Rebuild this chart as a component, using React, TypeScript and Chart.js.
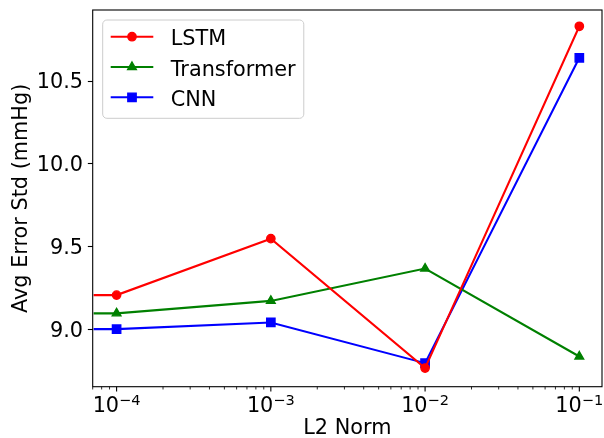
import React, { useEffect, useRef } from 'react';
import { Chart, registerables } from 'chart.js';

Chart.register(...registerables);

// ---- data ----
const l2Norms = [0, 1e-4, 1e-3, 1e-2, 1e-1];
const lstmStd = [9.21, 9.21, 9.55, 8.77, 10.83];
const transformerStd = [9.1, 9.1, 9.175, 9.37, 8.84];
const cnnStd = [9.005, 9.005, 9.045, 8.8, 10.64];
const seriesNames = ['LSTM', 'Transformer', 'CNN'];
const seriesColors = ['#ff0000', '#008000', '#0000ff'];
const xMajorTicks = [1e-4, 1e-3, 1e-2, 1e-1];
const xTickExponents = ['\u22124', '\u22123', '\u22122', '\u22121'];
const yTicks = [9.0, 9.5, 10.0, 10.5];
const xTitle = 'L2 Norm';
const yTitle = 'Avg Error Std (mmHg)';

// ---- layout / style ----
const X_MIN = Math.pow(10, -4.149);
const X_MAX = Math.pow(10, -0.853);
const Y_MIN = 8.658;
const Y_MAX = 10.928;
const FONT = "'DejaVu Sans', sans-serif";
const FS = 20.8;
const SUP_FS = 14.56;
const LINE_W = 2.08;
const MARKER_EDGE = 1.39;

type MarkerKind = 'circle' | 'triangle' | 'rect';
const markerKinds: MarkerKind[] = ['circle', 'triangle', 'rect'];
const markerRadius = [4.17, 5.0, 5.9];

function drawMarker(ctx: CanvasRenderingContext2D, kind: MarkerKind, x: number, y: number, r: number, color: string) {
  ctx.save();
  ctx.fillStyle = color;
  ctx.strokeStyle = color;
  ctx.lineWidth = MARKER_EDGE;
  ctx.beginPath();
  if (kind === 'circle') {
    ctx.arc(x, y, r, 0, Math.PI * 2);
  } else if (kind === 'triangle') {
    for (let k = 0; k < 3; k++) {
      const ang = (k * 2 * Math.PI) / 3;
      const px = x + Math.sin(ang) * r;
      const py = y - Math.cos(ang) * r;
      if (k === 0) ctx.moveTo(px, py);
      else ctx.lineTo(px, py);
    }
    ctx.closePath();
  } else {
    const s = Math.SQRT1_2 * r;
    ctx.rect(x - s, y - s, 2 * s, 2 * s);
  }
  ctx.fill();
  ctx.stroke();
  ctx.restore();
}

const decorPlugin = {
  id: 'decor',
  afterDatasetsDraw(chart: any) {
    const { ctx, chartArea: a, scales } = chart;
    const xs = scales.x;
    ctx.save();
    // frame
    ctx.strokeStyle = '#000';
    ctx.lineWidth = 1.1;
    ctx.strokeRect(a.left, a.top, a.right - a.left, a.bottom - a.top);

    // minor x ticks
    ctx.lineWidth = 0.83;
    for (let d = -6; d <= 0; d++) {
      for (let k = 2; k <= 9; k++) {
        const v = k * Math.pow(10, d);
        if (v < xs.min || v > xs.max) continue;
        const px = xs.getPixelForValue(v);
        ctx.beginPath();
        ctx.moveTo(px, a.bottom);
        ctx.lineTo(px, a.bottom + 2.78);
        ctx.stroke();
      }
    }
    // major x ticks + labels
    ctx.lineWidth = 1.1;
    ctx.fillStyle = '#000';
    ctx.textBaseline = 'alphabetic';
    ctx.textAlign = 'left';
    xMajorTicks.forEach((v, i) => {
      const px = xs.getPixelForValue(v);
      ctx.beginPath();
      ctx.moveTo(px, a.bottom);
      ctx.lineTo(px, a.bottom + 4.86);
      ctx.stroke();
      ctx.font = `${FS}px ${FONT}`;
      const w1 = ctx.measureText('10').width;
      ctx.font = `${SUP_FS}px ${FONT}`;
      const w2 = ctx.measureText(xTickExponents[i]).width;
      const x0 = px - (w1 + w2) / 2;
      const base = a.bottom + 25.2;
      ctx.font = `${FS}px ${FONT}`;
      ctx.fillText('10', x0, base);
      ctx.font = `${SUP_FS}px ${FONT}`;
      ctx.fillText(xTickExponents[i], x0 + w1, base - 7);
    });

    // legend
    ctx.font = `${FS}px ${FONT}`;
    const maxW = Math.max(...seriesNames.map((n) => ctx.measureText(n).width));
    const lx = a.left + 10;
    const ly = a.top + 10;
    const lw = 8 + 42.6 + 17.4 + maxW + 8.3;
    const lh = 98.3;
    const rr = 4.2;
    ctx.beginPath();
    ctx.moveTo(lx + rr, ly);
    ctx.lineTo(lx + lw - rr, ly);
    ctx.arcTo(lx + lw, ly, lx + lw, ly + rr, rr);
    ctx.lineTo(lx + lw, ly + lh - rr);
    ctx.arcTo(lx + lw, ly + lh, lx + lw - rr, ly + lh, rr);
    ctx.lineTo(lx + rr, ly + lh);
    ctx.arcTo(lx, ly + lh, lx, ly + lh - rr, rr);
    ctx.lineTo(lx, ly + rr);
    ctx.arcTo(lx, ly, lx + rr, ly, rr);
    ctx.closePath();
    ctx.fillStyle = 'rgba(255,255,255,0.8)';
    ctx.fill();
    ctx.strokeStyle = '#cccccc';
    ctx.lineWidth = 1;
    ctx.stroke();

    seriesNames.forEach((name, i) => {
      const cy = ly + 16.7 + i * 30.3;
      const hx0 = lx + 8;
      const hx1 = hx0 + 42.6;
      ctx.strokeStyle = seriesColors[i];
      ctx.lineWidth = LINE_W;
      ctx.beginPath();
      ctx.moveTo(hx0, cy);
      ctx.lineTo(hx1, cy);
      ctx.stroke();
      drawMarker(ctx, markerKinds[i], (hx0 + hx1) / 2, cy, markerRadius[i], seriesColors[i]);
      ctx.fillStyle = '#000';
      ctx.font = `${FS}px ${FONT}`;
      ctx.textAlign = 'left';
      ctx.textBaseline = 'alphabetic';
      ctx.fillText(name, hx1 + 17.4, cy + 8.6);
    });
    ctx.restore();
  },
};

export default function App() {
  const canvasRef = useRef<HTMLCanvasElement | null>(null);

  useEffect(() => {
    document.body.style.margin = '0';
    const canvas = canvasRef.current;
    if (!canvas) return;
    const allSeries = [lstmStd, transformerStd, cnnStd];
    const datasets = allSeries.map((vals, si) => ({
      label: seriesNames[si],
      data: l2Norms.map((x, i) => ({ x: x === 0 ? X_MIN : x, y: vals[i] })),
      borderColor: seriesColors[si],
      backgroundColor: seriesColors[si],
      borderWidth: LINE_W,
      pointStyle: markerKinds[si],
      pointRadius: (c: any) => (c.dataIndex === 0 ? 0 : markerRadius[si]),
      pointBorderWidth: MARKER_EDGE,
      pointBorderColor: seriesColors[si],
      pointBackgroundColor: seriesColors[si],
      tension: 0,
      fill: false,
      clip: { left: 0, top: false, right: false, bottom: false },
    }));

    const chart = new Chart(canvas, {
      type: 'line',
      data: { datasets } as any,
      options: {
        responsive: false,
        animation: false,
        devicePixelRatio: 1,
        events: [],
        layout: { padding: { left: 0, top: 10, right: 2, bottom: 0 }, autoPadding: false } as any,
        plugins: { legend: { display: false }, tooltip: { enabled: false } },
        scales: {
          x: {
            type: 'logarithmic',
            min: X_MIN,
            max: X_MAX,
            grid: { display: false },
            border: { display: false },
            ticks: { display: false },
            title: {
              display: true,
              text: xTitle,
              color: '#000',
              font: { family: FONT, size: FS, lineHeight: 1 },
              padding: { top: 0, bottom: -1.2 },
            },
            afterFit: (s: any) => {
              s.height = 51.3;
              s.paddingLeft = 0;
              s.paddingRight = 0;
            },
          },
          y: {
            type: 'linear',
            min: Y_MIN,
            max: Y_MAX,
            afterBuildTicks: (s: any) => {
              s.ticks = yTicks.map((v) => ({ value: v }));
            },
            ticks: {
              color: '#000',
              font: { family: FONT, size: FS },
              padding: 4.86,
              labelOffset: 2,
              callback: (v: any) => Number(v).toFixed(1),
            },
            grid: {
              display: true,
              drawOnChartArea: false,
              drawTicks: true,
              tickLength: 4.86,
              tickWidth: 1.1,
              tickColor: '#000',
            },
            border: { display: false },
            title: {
              display: true,
              text: yTitle,
              color: '#000',
              font: { family: FONT, size: FS, lineHeight: 1.2 },
              padding: { top: 8.8, bottom: 0 },
            },
            afterFit: (s: any) => {
              s.width = 92.7;
              s.paddingTop = 0;
              s.paddingBottom = 0;
            },
          },
        },
      } as any,
      plugins: [decorPlugin],
    });
    return () => chart.destroy();
  }, []);

  return (
    <div style={{ width: 604, height: 438 }}>
      <canvas ref={canvasRef} width={604} height={438} style={{ display: 'block' }} />
    </div>
  );
}
